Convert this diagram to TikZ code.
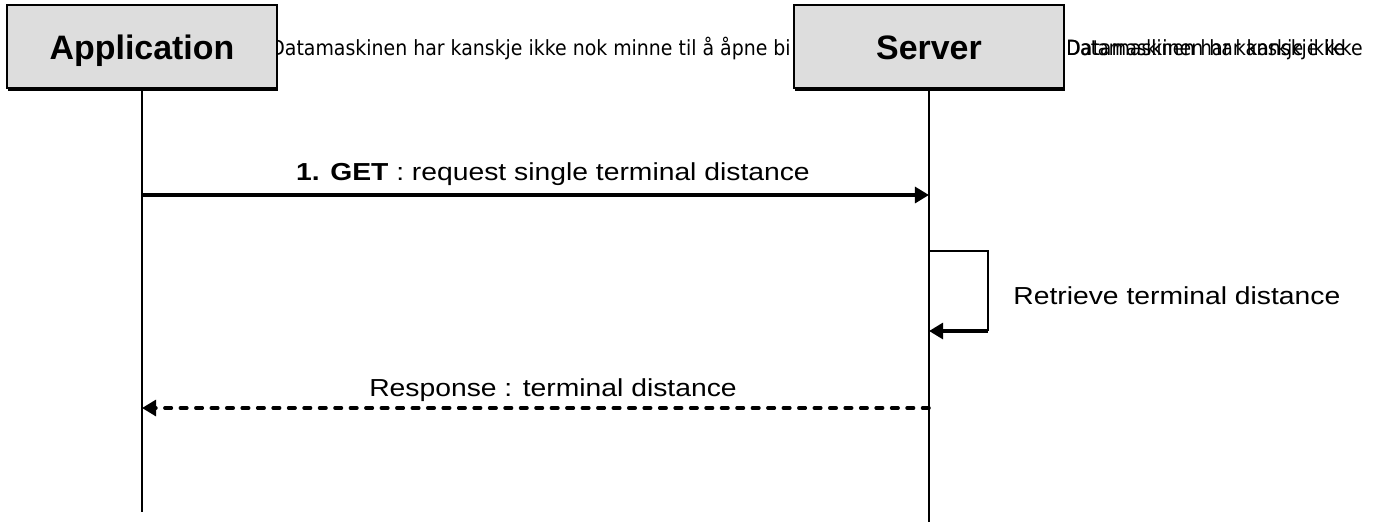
\documentclass[tikz,border=0pt]{standalone}
\usepackage{fontspec}
\setmainfont{Liberation Sans}
\newfontfamily\msgfont[FakeStretch=1.15]{Liberation Sans}
\newfontfamily\hidfont[FakeStretch=0.905]{DejaVu Sans}
\newfontfamily\garbfont[FakeStretch=0.85]{DejaVu Sans}
\usetikzlibrary{arrows.meta,shadows}
\definecolor{boxgray}{RGB}{221,221,221}

\tikzset{
  actor/.style={draw, line width=1.1pt, fill=boxgray, inner sep=0pt,
    minimum width=5.4cm, minimum height=1.66cm,
    text height=14.6pt, text depth=0pt,
    font=\fontsize{19.3}{23}\selectfont\bfseries,
    drop shadow={shadow xshift=0.02cm, shadow yshift=-0.06cm, fill=black, opacity=1}},
  lifeline/.style={line width=1pt},
  msg/.style={line width=2pt, -{Triangle[length=8pt,width=9pt]}},
  reply/.style={msg, dash pattern=on 3.7pt off 5.1pt, line cap=round},
  msglabel/.style={inner sep=0pt, font=\msgfont\fontsize{14}{17}\selectfont},
  hidtext/.style={anchor=base west, inner sep=0pt, font=\hidfont\fontsize{11.9}{14}\selectfont},
}

\begin{document}
\begin{tikzpicture}[x=0.02cm, y=-0.02cm]
\useasboundingbox (0,0) rectangle (1381,522);

% text left behind the boxes
\node[hidtext] (hid) at (270,55) {Datamaskinen har kanskje ikke nok minne til å åpne bi};
\node[hidtext, font=\garbfont\fontsize{11.9}{14}\selectfont] (garb1) at (1066,55) {Datamaskinen har kanskje ikke};
\node[hidtext] (garb2) at (1066,55) {Datamaskinen har kanskje ikke};

% the two parties
\node[actor] (app) at (142,46.5) {Application};
\node[actor] (srv) at (929,46.5) {Server};

% life lines
\coordinate (appEnd) at (142,512);
\coordinate (srvEnd) at (929,522);
\draw[lifeline] (app) -- (appEnd);
\draw[lifeline] (srv) -- (srvEnd);

% 1. request
\coordinate (a1) at (142,195);
\coordinate (s1) at (929,195);
\draw[msg] (a1) -- (s1);
\node[msglabel, anchor=base] (l1) at (553,180) {\textbf{1. GET} : request single terminal distance};

% retrieve on the server
\coordinate (r0) at (929,251);
\coordinate (r1) at (988,251);
\coordinate (r2) at (988,331);
\coordinate (r3) at (929,331);
\draw[line width=1.1pt] (r0) -- (r1) -- (r2);
\draw[msg] (r2) -- (r3);
\node[msglabel, anchor=base west] (l2) at (1013,304) {Retrieve terminal distance};

% response
\coordinate (a2) at (142,408);
\coordinate (s2) at (929,408);
\draw[reply] (s2) -- (a2);
\node[msglabel, anchor=base] (l3) at (553,396) {Response : terminal distance};
\end{tikzpicture}
\end{document}
